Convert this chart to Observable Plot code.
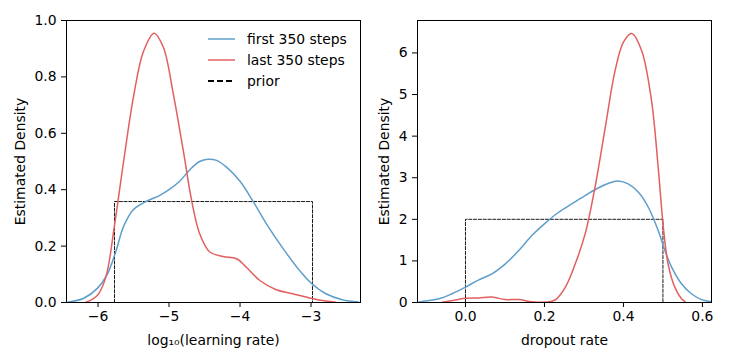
<!DOCTYPE html>
<html>
<head>
<meta charset="utf-8">
<script src="https://cdn.jsdelivr.net/npm/d3@7"></script>
<script src="https://cdn.jsdelivr.net/npm/@observablehq/plot@0.6"></script>
<style>
  body { margin: 0; background: #fff; font-family: "DejaVu Sans", sans-serif; }
  #wrap { position: relative; width: 729px; height: 364px; display: flex; }
  #wrap svg text { font-size: 13.9px !important; font-family: "DejaVu Sans", sans-serif !important; fill: #000; }
  #legend { position: absolute; left: 207px; top: 28px; font-size: 13.9px; color: #000; }
  #legend div { display: flex; align-items: center; height: 21px; }
  #legend svg { margin-right: 11px; }
</style>
</head>
<body>
<div id="wrap"></div>
<script>
// ---- data ----
const seriesNames = ["first 350 steps", "last 350 steps", "prior"];
const seriesColors = ["#5e9ecb", "#e1605f", "#000000"];

const lrFirstX = [-6.43,-6.20,-6.01,-5.87,-5.75,-5.64,-5.50,-5.31,-5.13,-5.00,-4.85,-4.71,-4.57,-4.45,-4.33,-4.19,-4.00,-3.81,-3.63,-3.39,-3.16,-3.00,-2.79,-2.56,-2.33];
const lrFirstY = [0.001,0.015,0.05,0.10,0.18,0.27,0.33,0.36,0.38,0.40,0.43,0.47,0.50,0.508,0.504,0.48,0.43,0.356,0.28,0.19,0.113,0.069,0.031,0.01,0.002];
const lrLastX = [-6.18,-6.01,-5.89,-5.77,-5.64,-5.50,-5.36,-5.21,-5.08,-4.94,-4.80,-4.68,-4.57,-4.43,-4.24,-4.05,-3.91,-3.72,-3.49,-3.26,-3.00,-2.79,-2.65];
const lrLastY = [0.0,0.025,0.09,0.27,0.50,0.73,0.89,0.955,0.905,0.74,0.54,0.36,0.245,0.18,0.163,0.155,0.125,0.078,0.045,0.031,0.015,0.005,0.001];
const lrPrior = {lo: -5.768, hi: -2.979, h: 0.358};

const drFirstX = [-0.118,-0.067,-0.034,0.0,0.034,0.067,0.101,0.135,0.168,0.202,0.236,0.269,0.303,0.337,0.370,0.387,0.412,0.438,0.463,0.488,0.505,0.522,0.547,0.572,0.598,0.623];
const drFirstY = [0.015,0.09,0.21,0.37,0.545,0.69,0.93,1.25,1.61,1.91,2.17,2.37,2.57,2.76,2.89,2.92,2.85,2.65,2.29,1.73,1.25,0.85,0.45,0.21,0.07,0.02];
const drLastX = [-0.059,-0.025,0.0,0.034,0.067,0.101,0.135,0.168,0.202,0.227,0.253,0.278,0.303,0.328,0.354,0.379,0.400,0.421,0.446,0.471,0.488,0.501,0.513,0.530,0.547,0.556];
const drLastY = [0.008,0.06,0.10,0.11,0.13,0.07,0.07,0.02,0.01,0.06,0.37,0.93,1.65,2.77,4.21,5.58,6.26,6.47,6.06,4.86,3.25,1.81,0.93,0.37,0.09,0.02];
const drPrior = {lo: 0.0, hi: 0.5, h: 2.0};

const lrXTicks = [-6,-5,-4,-3];
const lrYTicks = [0,0.2,0.4,0.6,0.8,1.0];
const drXTicks = [0,0.2,0.4,0.6];
const drYTicks = [0,1,2,3,4,5,6];

// ---- helpers ----
const pts = (xs, ys) => xs.map((x, i) => ({x, y: ys[i]}));
const box = p => [{x: p.lo, y: 0}, {x: p.lo, y: p.h}, {x: p.hi, y: p.h}, {x: p.hi, y: 0}];

function panel({first, last, prior, xDomain, yDomain, xTicks, yTicks, xFmt, yFmt, xLabel, marginLeft, marginRight}) {
  return Plot.plot({
    width: 364, height: 364,
    marginLeft, marginRight, marginTop: 20, marginBottom: 62,
    style: {fontFamily: "DejaVu Sans, sans-serif", fontSize: "13.9px", color: "#000", background: "#fff"},
    x: {domain: xDomain},
    y: {domain: yDomain},
    marks: [
      Plot.line(box(prior), {x: "x", y: "y", stroke: seriesColors[2], strokeWidth: 0.9, strokeDasharray: "3.2,1.6"}),
      Plot.line(first, {x: "x", y: "y", stroke: seriesColors[0], strokeWidth: 1.5, curve: "catmull-rom"}),
      Plot.line(last, {x: "x", y: "y", stroke: seriesColors[1], strokeWidth: 1.5, curve: "catmull-rom"}),
      Plot.frame({stroke: "#000", strokeWidth: 1}),
      Plot.axisX({ticks: xTicks, tickFormat: xFmt, tickSize: 5, tickPadding: 4, fontSize: 13.9, label: xLabel, labelAnchor: "center", labelArrow: "none", labelOffset: 42}),
      Plot.axisY({ticks: yTicks, tickFormat: yFmt, tickSize: 5, tickPadding: 5, fontSize: 13.9, label: "Estimated Density", labelAnchor: "center", labelArrow: "none", labelOffset: marginLeft - 15})
    ]
  });
}

const wrap = document.getElementById("wrap");
wrap.appendChild(panel({
  first: pts(lrFirstX, lrFirstY), last: pts(lrLastX, lrLastY), prior: lrPrior,
  xDomain: [-6.444, -2.303], yDomain: [0, 1.0],
  xTicks: lrXTicks, yTicks: lrYTicks, xFmt: d3.format("d"), yFmt: d3.format(".1f"),
  xLabel: "log₁₀(learning rate)", marginLeft: 66, marginRight: 4
}));
wrap.appendChild(panel({
  first: pts(drFirstX, drFirstY), last: pts(drLastX, drLastY), prior: drPrior,
  xDomain: [-0.1215, 0.623], yDomain: [0, 6.78],
  xTicks: drXTicks, yTicks: drYTicks, xFmt: d3.format(".1f"), yFmt: d3.format("d"),
  xLabel: "dropout rate", marginLeft: 53, marginRight: 17
}));

// legend (left panel, upper right)
const legend = document.createElement("div");
legend.id = "legend";
seriesNames.forEach((name, i) => {
  const row = document.createElement("div");
  const dash = i === 2 ? 'stroke-dasharray="6,3" stroke-width="2.2"' : 'stroke-width="1.5"';
  row.innerHTML = `<svg width="29" height="10"><line x1="1" x2="28" y1="5" y2="5" stroke="${seriesColors[i]}" ${dash}/></svg><span>${name}</span>`;
  legend.appendChild(row);
});
wrap.appendChild(legend);
</script>
</body>
</html>
